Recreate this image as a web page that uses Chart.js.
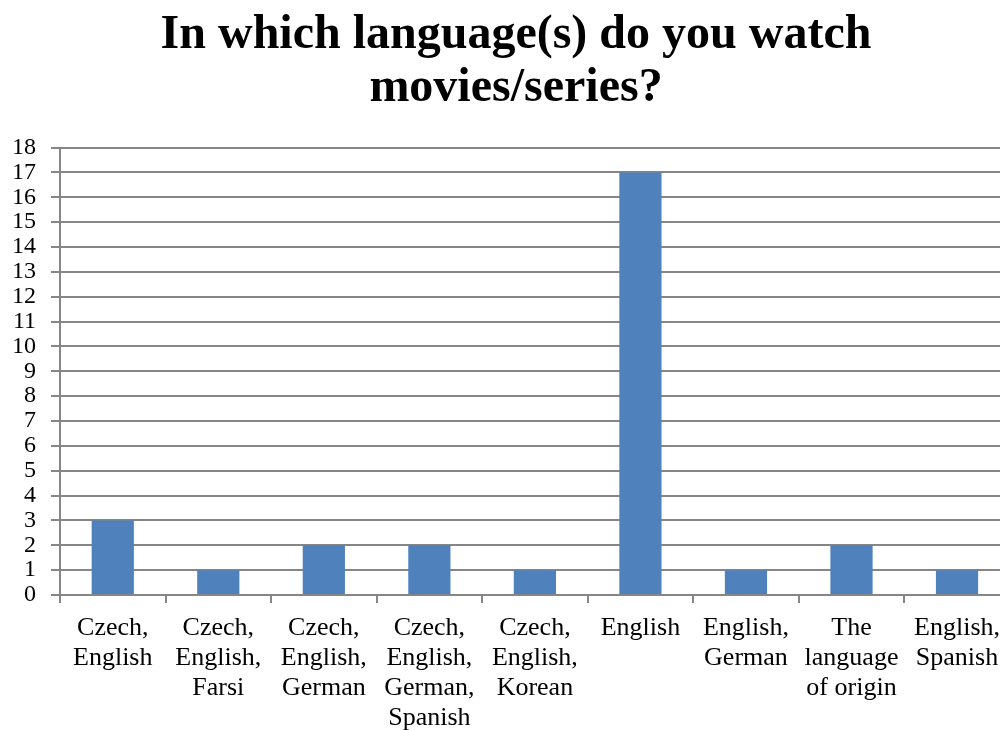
<!DOCTYPE html>
<html>
<head>
<meta charset="utf-8">
<script src="https://cdn.jsdelivr.net/npm/chart.js@4/dist/chart.umd.min.js"></script>
<style>
  html, body { margin: 0; padding: 0; background: #fff; overflow: hidden; }
  #wrap { width: 1010px; height: 743px; }
</style>
</head>
<body>
<div id="wrap"><canvas id="langChart" width="1010" height="743"></canvas></div>
<script>
// categories (multi-line labels as in the original)
const categories = [
    ['Czech,', 'English'],
    ['Czech,', 'English,', 'Farsi'],
    ['Czech,', 'English,', 'German'],
    ['Czech,', 'English,', 'German,', 'Spanish'],
    ['Czech,', 'English,', 'Korean'],
    'English',
    ['English,', 'German'],
    ['The', 'language', 'of origin'],
    ['English,', 'Spanish']
];
const counts = [3, 1, 2, 2, 1, 17, 1, 2, 1];
const yMin = 0;
const yMax = 18;
const yStep = 1;
const titleLines = ['In which language(s) do you watch', 'movies/series?'];

const gridColor = '#868686';
const serif = "'Liberation Serif', 'Times New Roman', serif";

// the original title sits a bit right of the canvas centre
const shiftTitle = {
    id: 'shiftTitle',
    afterLayout(chart) {
        if (chart.titleBlock) chart.titleBlock.left += 22;
    }
};

const ctx = document.getElementById('langChart').getContext('2d');
const langChart = new Chart(ctx, {
    type: 'bar',
    data: {
        labels: categories,
        datasets: [{
            label: 'Count',
            data: counts,
            backgroundColor: '#4F81BD',
            borderWidth: 0,
            barPercentage: 0.4,
            categoryPercentage: 1.0
        }]
    },
    plugins: [shiftTitle],
    options: {
        responsive: false,
        animation: false,
        devicePixelRatio: 1,
        layout: { padding: 0 },
        plugins: {
            legend: { display: false },
            tooltip: { enabled: false },
            title: {
                display: true,
                text: titleLines,
                color: '#000',
                font: { family: serif, size: 48, weight: 'bold', lineHeight: 1.1 },
                padding: { top: 9, bottom: 33 }
            }
        },
        scales: {
            x: {
                offset: true,
                grid: {
                    offset: true,
                    drawOnChartArea: false,
                    drawTicks: true,
                    tickLength: 8,
                    color: gridColor,
                    lineWidth: 2
                },
                border: { color: gridColor, width: 2 },
                ticks: {
                    autoSkip: false,
                    maxRotation: 0,
                    minRotation: 0,
                    padding: 10,
                    color: '#000',
                    font: { family: serif, size: 26, lineHeight: 1.154 }
                }
            },
            y: {
                min: yMin,
                max: yMax,
                afterFit: function (scale) { scale.width = 60; },
                grid: {
                    color: gridColor,
                    lineWidth: 2,
                    tickLength: 9
                },
                border: { color: gridColor, width: 2 },
                ticks: {
                    stepSize: yStep,
                    autoSkip: false,
                    padding: 15,
                    color: '#000',
                    font: { family: serif, size: 24, lineHeight: 0.9 }
                }
            }
        }
    }
});
</script>
</body>
</html>
